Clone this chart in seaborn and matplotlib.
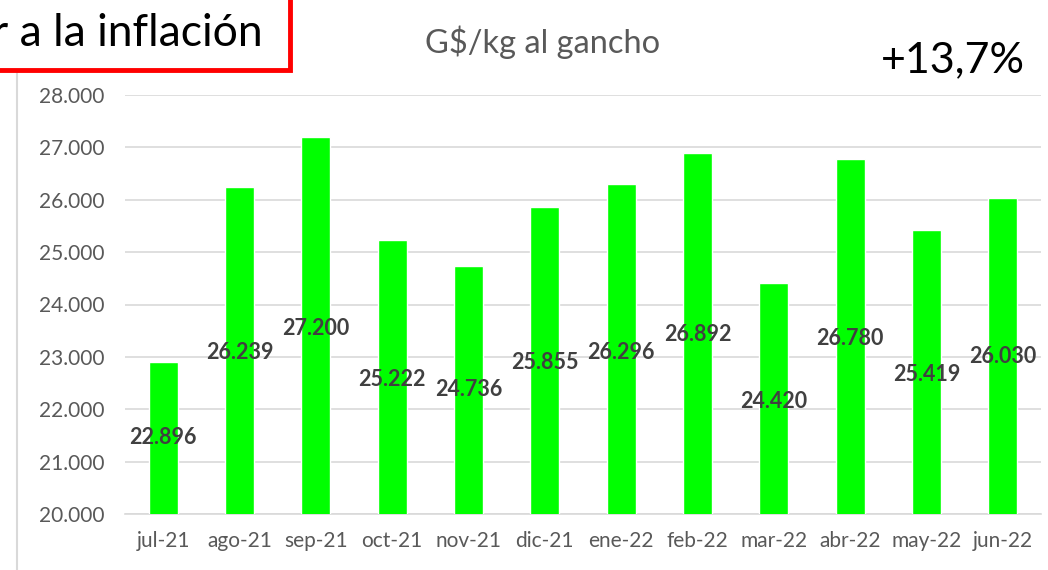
import matplotlib
matplotlib.use('Agg')
import matplotlib.pyplot as plt
import seaborn as sns
import pandas as pd
from matplotlib.lines import Line2D
from matplotlib.patches import Rectangle

# datos
meses = ['jul-21', 'ago-21', 'sep-21', 'oct-21', 'nov-21', 'dic-21',
         'ene-22', 'feb-22', 'mar-22', 'abr-22', 'may-22', 'jun-22']
precios = [22896, 26239, 27200, 25222, 24736, 25855,
           26296, 26892, 24420, 26780, 25419, 26030]
etiquetas = ['22.896', '26.239', '27.200', '25.222', '24.736', '25.855',
             '26.296', '26.892', '24.420', '26.780', '25.419', '26.030']
yticks = [20000, 21000, 22000, 23000, 24000, 25000, 26000, 27000, 28000]
ytick_labels = ['20.000', '21.000', '22.000', '23.000', '24.000',
                '25.000', '26.000', '27.000', '28.000']

# altura de las etiquetas (posicion, como en el original)
label_y = [21470, 23090, 23550, 22560, 22370, 22900,
           23090, 23420, 22140, 23360, 22670, 23000]

sns.set_style('white')
plt.rcParams['font.family'] = ['Lato', 'DejaVu Sans']

df = pd.DataFrame({'mes': meses, 'precio': precios})

fig = plt.figure(figsize=(10.48, 5.70), dpi=100)
ax = fig.add_axes([125 / 1048, 1 - 514 / 570, (1041 - 125) / 1048, (514 - 95) / 570])

sns.barplot(data=df, x='mes', y='precio', color='#00FF00', width=0.38,
            saturation=1, ax=ax, zorder=3)

ax.set_ylim(20000, 28000)
ax.set_xlim(-0.5, len(meses) - 0.5)
ax.set_yticks(yticks)
ax.set_yticklabels(ytick_labels)
ax.set_xlabel('')
ax.set_ylabel('')
ax.tick_params(axis='both', length=0, labelsize=15, colors='#595959')
ax.tick_params(axis='y', pad=15)
ax.tick_params(axis='x', pad=12)
ax.grid(axis='y', color='#d9d9d9', linewidth=1.2, zorder=0)
for s in ['left', 'right', 'top']:
    ax.spines[s].set_visible(False)
ax.spines['bottom'].set_color('#d9d9d9')
ax.spines['bottom'].set_linewidth(1.2)

for i, (t, y) in enumerate(zip(etiquetas, label_y)):
    ax.text(i, y, t, ha='center', va='center', fontsize=15.5,
            fontweight='bold', color='#404040', zorder=4)

# titulo y textos
fig.text(543 / 1048, 1 - 42 / 570, 'G$/kg al gancho', ha='center', va='center',
         fontsize=23.5, color='#595959')
fig.text(953 / 1048, 1 - 60 / 570, '+13,7%', ha='center', va='center',
         fontsize=31, color='black')

# linea gris a la izquierda
fig.add_artist(Line2D([17 / 1048, 17 / 1048], [0, 1], color='#d9d9d9',
                      linewidth=1.5, transform=fig.transFigure))

# recuadro rojo (cortado en el borde, como en el original)
fig.add_artist(Rectangle((-10 / 1048, 1 - 70 / 570), 300 / 1048, 90 / 570,
                         fill=True, facecolor='white', edgecolor='#FF0000',
                         linewidth=3.5, transform=fig.transFigure, zorder=5))
fig.text(263 / 1048, 1 - 34 / 570, 'r a la inflación', ha='right', va='center',
         fontsize=32, color='black', zorder=6)

fig.savefig('out.png', dpi=100)
